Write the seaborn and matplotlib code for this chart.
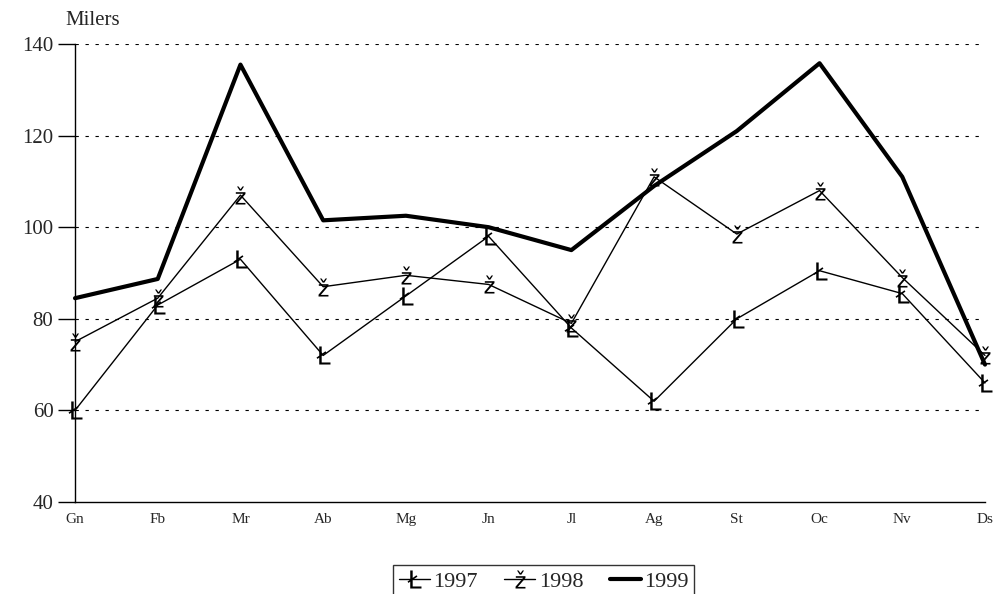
import matplotlib
matplotlib.use("Agg")
import matplotlib.pyplot as plt
import seaborn as sns
from matplotlib.lines import Line2D

months = ['Gn', 'Fb', 'Mr', 'Ab', 'Mg', 'Jn', 'Jl', 'Ag', 'St', 'Oc', 'Nv', 'Ds']
v1997 = [60, 83, 93, 72, 85, 98, 78, 62, 80, 90.5, 85.5, 66]
v1998 = [75, 84.5, 107, 87, 89.5, 87.5, 79, 111, 98.5, 108, 89, 72]
v1999 = [84.5, 88.7, 135.5, 101.5, 102.5, 100, 95, 109, 121, 135.8, 111, 70]

sns.set_theme(style="white")
plt.rcParams['font.family'] = ['Liberation Serif', 'DejaVu Serif']
plt.rcParams['mathtext.fontset'] = 'custom'
plt.rcParams['mathtext.rm'] = 'DejaVu Sans'
plt.rcParams['mathtext.default'] = 'rm'

fig = plt.figure(figsize=(9.96, 5.94), dpi=100)
ax = fig.add_axes([75 / 996, 1 - 502 / 594, 910 / 996, 458 / 594])

mk = dict(markersize=13, markeredgewidth=0.0, markerfacecolor='black', markeredgecolor='black')
xs = list(range(12))
sns.lineplot(x=xs, y=v1997, color='black', lw=1, marker='$Ł$', ax=ax, clip_on=False, **mk)
sns.lineplot(x=xs, y=v1998, color='black', lw=1, marker='$ž$', ax=ax, clip_on=False, **mk)
sns.lineplot(x=xs, y=v1999, color='black', lw=3, ax=ax, clip_on=False)

ax.set_xlim(0, 11)
ax.set_ylim(40, 140)
ax.set_xticks(xs)
ax.set_xticklabels(months, fontsize=11)
ax.set_yticks([40, 60, 80, 100, 120, 140])
ax.tick_params(axis='y', labelsize=15, length=12, width=1, color='black', direction='out', left=True)
ax.tick_params(axis='x', length=0, pad=8)
for y in [60, 80, 100, 120, 140]:
    ax.axhline(y, color='black', lw=0.8, ls=(0, (3, 6)), zorder=0)
for s in ['top', 'right']:
    ax.spines[s].set_visible(False)
for s in ['left', 'bottom']:
    ax.spines[s].set_color('black')
    ax.spines[s].set_linewidth(1)
ax.text(-0.011, 1.03, 'Milers', transform=ax.transAxes, fontsize=15, va='bottom')

handles = [Line2D([], [], color='black', lw=1, marker='$Ł$', **mk),
           Line2D([], [], color='black', lw=1, marker='$ž$', **mk),
           Line2D([], [], color='black', lw=3)]
leg = fig.legend(handles, ['1997', '1998', '1999'], loc='upper center',
                 bbox_to_anchor=(0.546, 0.048), ncol=3, fontsize=16, frameon=True,
                 fancybox=False, edgecolor='black', handlelength=1.4,
                 handletextpad=0.15, columnspacing=1.2, borderpad=0.25,
                 borderaxespad=0)
leg.get_frame().set_linewidth(1)

fig.savefig('out.png', dpi=100)
